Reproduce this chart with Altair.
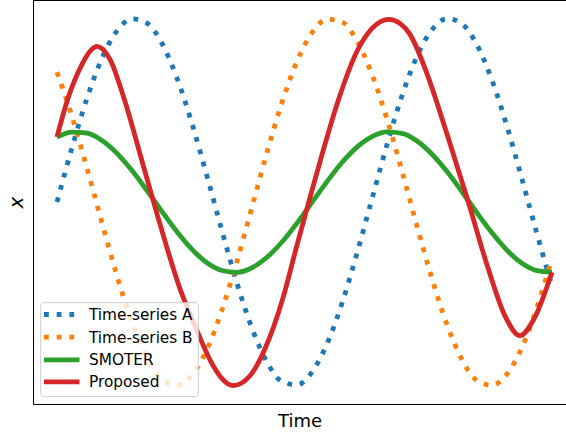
import altair as alt
import pandas as pd

# Sample positions (time index) for the two source series and the SMOTER average
t_grid = [0, 3, 6, 9, 12, 15, 18, 21, 24, 27, 30, 33, 36, 39, 42, 45, 48,
          51, 54, 57, 60, 63, 66, 69, 72, 75, 78, 81, 84, 87, 90, 93, 96, 99]

series_a = [0.000, 0.296, 0.565, 0.783, 0.932, 0.997, 0.974, 0.863, 0.675,
            0.427, 0.141, -0.158, -0.443, -0.688, -0.872, -0.978, -0.996,
            -0.926, -0.773, -0.551, -0.279, 0.017, 0.312, 0.579, 0.794,
            0.938, 0.999, 0.970, 0.855, 0.663, 0.412, 0.124, -0.174, -0.458]

series_b = [0.707, 0.466, 0.184, -0.114, -0.403, -0.655, -0.850, -0.967,
            -0.999, -0.943, -0.803, -0.587, -0.322, -0.027, 0.270, 0.542,
            0.766, 0.922, 0.995, 0.980, 0.877, 0.695, 0.452, 0.168, -0.131,
            -0.418, -0.668, -0.859, -0.972, -0.998, -0.937, -0.791, -0.574,
            -0.305]

smoter = [0.354, 0.381, 0.375, 0.335, 0.265, 0.171, 0.062, -0.052, -0.162,
          -0.258, -0.331, -0.373, -0.383, -0.358, -0.301, -0.218, -0.115,
          -0.002, 0.111, 0.215, 0.299, 0.356, 0.382, 0.374, 0.332, 0.260,
          0.166, 0.056, -0.059, -0.168, -0.263, -0.334, -0.374, -0.382]

# The proposed synthetic series
proposed_t = [0, 2.2, 5.0, 6.6, 8.0, 10.6, 13.4, 17.0, 20.0, 22.0, 24.6,
              27.6, 31.0, 33.0, 35.2, 38.6, 41.6, 45.2, 47.8, 50.4, 53.2,
              56.2, 60.0, 63.0, 66.4, 68.6, 70.6, 73.6, 78.0, 82.2, 86.2,
              89.6, 92.6, 95.2, 99.0]
proposed_v = [0.354, 0.565, 0.750, 0.821, 0.848, 0.777, 0.565, 0.223,
              -0.065, -0.250, -0.473, -0.674, -0.880, -0.962, -1.000,
              -0.946, -0.799, -0.522, -0.255, 0.005, 0.277, 0.549, 0.821,
              0.946, 0.995, 0.973, 0.913, 0.728, 0.370, 0.005, -0.359,
              -0.620, -0.728, -0.647, -0.382]

names = ["Time-series A", "Time-series B", "SMOTER", "Proposed"]
colors = ["#1f77b4", "#ff7f0e", "#2ca02c", "#d62728"]
dotted = [True, True, False, False]

LW = 4.8
DOT = [4.8, 7.9]
FONT = "DejaVu Sans"

x_enc = alt.X("t:Q", scale=alt.Scale(domain=[-4.8, 101.8], nice=False, zero=False),
              axis=alt.Axis(title="Time", ticks=False, labels=False, grid=False,
                            domainColor="black", domainWidth=1,
                            titleFont=FONT, titleFontSize=18, titleFontWeight="normal",
                            titleColor="black", titleBaseline="alphabetic",
                            titleY=22))
y_enc = alt.Y("v:Q", scale=alt.Scale(domain=[-1.1, 1.1], nice=False, zero=False),
              axis=alt.Axis(title="x", ticks=False, labels=False, grid=False,
                            domainColor="black", domainWidth=1,
                            titleFont=FONT, titleFontSize=20, titleFontWeight="normal",
                            titleFontStyle="italic", titleColor="black",
                            titleAngle=270, titleBaseline="alphabetic",
                            titleAlign="center", titleX=-11, titleY=202))


def curve(ts, vs, color, is_dotted):
    df = pd.DataFrame({"t": ts, "v": vs})
    style = dict(color=color, strokeWidth=LW, interpolate="monotone")
    if is_dotted:
        style["strokeDash"] = DOT
    return alt.Chart(df).mark_line(**style).encode(x=x_enc, y=y_enc)


values = [(t_grid, series_a), (t_grid, series_b), (t_grid, smoter),
          (proposed_t, proposed_v)]
layers = [curve(ts, vs, c, d) for (ts, vs), c, d in zip(values, colors, dotted)]

one = pd.DataFrame({"k": [0]})

# top spine of the frame
layers.append(alt.Chart(one).mark_rule(color="black", strokeWidth=1).encode(
    x=alt.value(0), x2=alt.value(540), y=alt.value(0.5)))

# legend box
layers.append(alt.Chart(one).mark_rect(
    fill="white", fillOpacity=0.8, stroke="#cccccc", strokeWidth=1, cornerRadius=3
).encode(x=alt.value(7.7), x2=alt.value(165.3), y=alt.value(302.7), y2=alt.value(396.7)))

row_y = [314.5, 337.2, 359.8, 381.8]
for name, color, is_dotted, ry in zip(names, colors, dotted, row_y):
    style = dict(color=color, strokeWidth=LW)
    if is_dotted:
        style["strokeDash"] = DOT
    layers.append(alt.Chart(one).mark_rule(**style).encode(
        x=alt.value(11), x2=alt.value(46.5), y=alt.value(ry)))
    layers.append(alt.Chart(pd.DataFrame({"label": [name]})).mark_text(
        align="left", baseline="middle", font=FONT, fontSize=15.3, color="black"
    ).encode(x=alt.value(56), y=alt.value(ry + 0.5), text="label:N"))

chart = alt.layer(*layers).properties(
    width=533, height=404,
    autosize=alt.AutoSizeParams(type="none"),
    padding={"left": 33, "top": 0, "right": 0, "bottom": 28},
).configure_view(stroke=None).configure(background="white")

chart.save("out.html", embed_options={"renderer": "svg", "actions": False})
